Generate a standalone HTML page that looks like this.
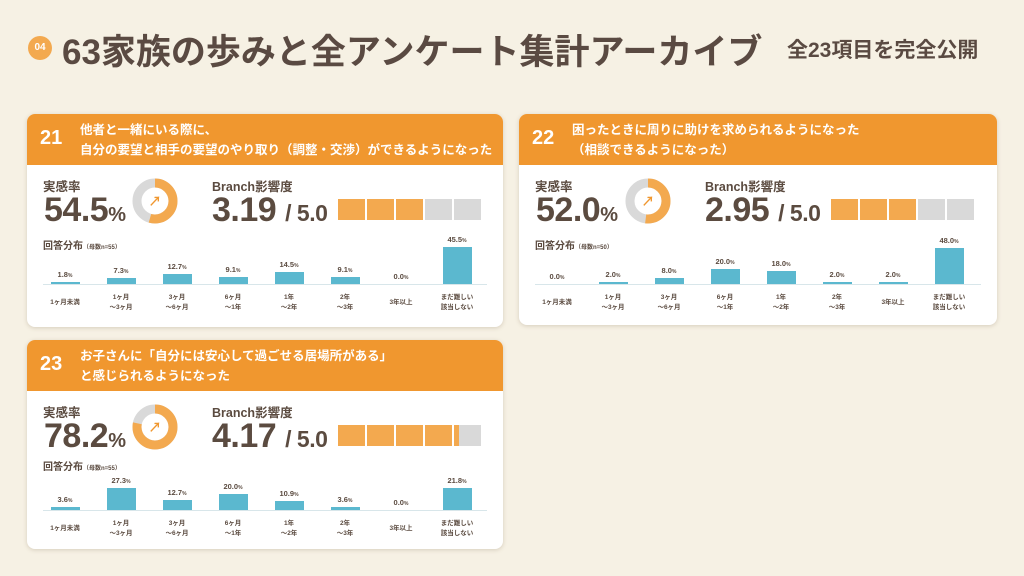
<!DOCTYPE html>
<html><head><meta charset="utf-8"><style>
*{margin:0;padding:0;box-sizing:border-box}
body{width:1024px;height:576px;overflow:hidden;background:#f6f1e4;font-family:"Liberation Sans","Noto Sans CJK JP",sans-serif;color:#5b4b40;position:relative}
.a{position:absolute;white-space:nowrap}
.card{position:absolute;background:#fff;border-radius:8px;box-shadow:0 1px 4px rgba(120,100,70,.25);overflow:hidden}
.hd{position:absolute;left:0;top:0;right:0;height:51px;background:#f0972f;color:#fff;font-weight:bold}
.num{position:absolute;left:13px;top:13px;font-size:20px}
.tt{position:absolute;left:53px;font-size:12.5px;line-height:20px}
.lb{font-size:12.5px;font-weight:bold}
.big{font-size:34px;font-weight:bold;letter-spacing:-0.5px;line-height:40px}
.big small{font-size:20px;font-weight:bold}
.sl{font-size:23px;font-weight:bold}
.blk{position:absolute;top:85px;width:27px;height:21px;background:#d9d9d9}
.o{background:#f3a94f}
.bar{position:absolute;width:29px;background:#5bb8cf}
.v{position:absolute;width:50px;text-align:center;font-size:7.5px;font-weight:bold;color:#5b4b40}
.v i{font-style:normal;font-size:5px}
.x{position:absolute;width:56px;text-align:center;font-size:6.5px;line-height:10px;font-weight:bold}
.base{position:absolute;left:16px;right:16px;height:1px;background:#d8e6ea}
</style></head><body>
<div class="a" style="left:28px;top:36px;width:24px;height:24px;border-radius:50%;background:#f3a94f;color:#fff;font-size:10px;font-weight:bold;text-align:center;line-height:24px">04</div>
<div class="a" style="left:62px;top:24px;font-size:35px;font-weight:bold;color:#5a4a42;letter-spacing:0px">63家族の歩みと全アンケート集計アーカイブ</div>
<div class="a" style="left:787px;top:34px;font-size:21px;font-weight:bold;color:#5a4a42">全23項目を完全公開</div>

<!-- card 21 -->
<div class="card" style="left:27px;top:114px;width:476px;height:213px">
<div class="hd"><div class="num">21</div><div class="tt" style="top:6px">他者と一緒にいる際に、<br>自分の要望と相手の要望のやり取り（調整・交渉）ができるようになった</div></div>
<div class="a lb" style="left:16px;top:62px">実感率</div>
<div class="a big" style="left:17px;top:76px">54.5<small>%</small></div>
<svg class="a" style="left:105px;top:64px" width="46" height="46"><circle cx="23" cy="23" r="18" fill="none" stroke="#d9d9d9" stroke-width="9"/><circle cx="23" cy="23" r="18" fill="none" stroke="#f3a94f" stroke-width="9" stroke-dasharray="61.6 200" transform="rotate(-90 23 23)"/><text x="23" y="28" text-anchor="middle" font-size="13" font-weight="bold" fill="#f0972f">↗</text></svg>
<div class="a lb" style="left:185px;top:62px">Branch影響度</div>
<div class="a big" style="left:185px;top:76px">3.19 <span class="sl">/ 5.0</span></div>
<div class="blk o" style="left:311px"></div><div class="blk o" style="left:340px"></div><div class="blk o" style="left:369px"></div><div class="blk" style="left:398px"></div><div class="blk" style="left:427px"></div>
<div class="a" style="left:16px;top:123px;font-size:10px;font-weight:bold">回答分布<span style="font-size:6px">（母数n=55）</span></div>
<div class="base" style="top:170px"></div>
<div class="bar" style="left:24px;top:168px;height:2px"></div><div class="v" style="left:13px;top:156px">1.8<i>%</i></div>
<div class="bar" style="left:80px;top:164px;height:6px"></div><div class="v" style="left:69px;top:152px">7.3<i>%</i></div>
<div class="bar" style="left:136px;top:160px;height:10px"></div><div class="v" style="left:125px;top:148px">12.7<i>%</i></div>
<div class="bar" style="left:192px;top:163px;height:7px"></div><div class="v" style="left:181px;top:151px">9.1<i>%</i></div>
<div class="bar" style="left:248px;top:158px;height:12px"></div><div class="v" style="left:237px;top:146px">14.5<i>%</i></div>
<div class="bar" style="left:304px;top:163px;height:7px"></div><div class="v" style="left:293px;top:151px">9.1<i>%</i></div>
<div class="v" style="left:349px;top:158px">0.0<i>%</i></div>
<div class="bar" style="left:416px;top:133px;height:37px"></div><div class="v" style="left:405px;top:121px">45.5<i>%</i></div>
<div class="x" style="left:10px;top:184px">1ヶ月未満</div>
<div class="x" style="left:66px;top:179px">1ヶ月<br>〜3ヶ月</div>
<div class="x" style="left:122px;top:179px">3ヶ月<br>〜6ヶ月</div>
<div class="x" style="left:178px;top:179px">6ヶ月<br>〜1年</div>
<div class="x" style="left:234px;top:179px">1年<br>〜2年</div>
<div class="x" style="left:290px;top:179px">2年<br>〜3年</div>
<div class="x" style="left:346px;top:184px">3年以上</div>
<div class="x" style="left:402px;top:179px">まだ難しい<br>該当しない</div>
</div>

<!-- card 22 -->
<div class="card" style="left:519px;top:114px;width:478px;height:211px">
<div class="hd"><div class="num">22</div><div class="tt" style="top:6px">困ったときに周りに助けを求められるようになった<br>（相談できるようになった）</div></div>
<div class="a lb" style="left:16px;top:62px">実感率</div>
<div class="a big" style="left:17px;top:76px">52.0<small>%</small></div>
<svg class="a" style="left:106px;top:64px" width="46" height="46"><circle cx="23" cy="23" r="18" fill="none" stroke="#d9d9d9" stroke-width="9"/><circle cx="23" cy="23" r="18" fill="none" stroke="#f3a94f" stroke-width="9" stroke-dasharray="58.8 200" transform="rotate(-90 23 23)"/><text x="23" y="28" text-anchor="middle" font-size="13" font-weight="bold" fill="#f0972f">↗</text></svg>
<div class="a lb" style="left:186px;top:62px">Branch影響度</div>
<div class="a big" style="left:186px;top:76px">2.95 <span class="sl">/ 5.0</span></div>
<div class="blk o" style="left:312px"></div><div class="blk o" style="left:341px"></div><div class="blk o" style="left:370px"></div><div class="blk" style="left:399px"></div><div class="blk" style="left:428px"></div>
<div class="a" style="left:16px;top:123px;font-size:10px;font-weight:bold">回答分布<span style="font-size:6px">（母数n=50）</span></div>
<div class="base" style="top:170px"></div>
<div class="v" style="left:13px;top:158px">0.0<i>%</i></div>
<div class="bar" style="left:80px;top:168px;height:2px"></div><div class="v" style="left:69px;top:156px">2.0<i>%</i></div>
<div class="bar" style="left:136px;top:164px;height:6px"></div><div class="v" style="left:125px;top:152px">8.0<i>%</i></div>
<div class="bar" style="left:192px;top:155px;height:15px"></div><div class="v" style="left:181px;top:143px">20.0<i>%</i></div>
<div class="bar" style="left:248px;top:157px;height:13px"></div><div class="v" style="left:237px;top:145px">18.0<i>%</i></div>
<div class="bar" style="left:304px;top:168px;height:2px"></div><div class="v" style="left:293px;top:156px">2.0<i>%</i></div>
<div class="bar" style="left:360px;top:168px;height:2px"></div><div class="v" style="left:349px;top:156px">2.0<i>%</i></div>
<div class="bar" style="left:416px;top:134px;height:36px"></div><div class="v" style="left:405px;top:122px">48.0<i>%</i></div>
<div class="x" style="left:10px;top:184px">1ヶ月未満</div>
<div class="x" style="left:66px;top:179px">1ヶ月<br>〜3ヶ月</div>
<div class="x" style="left:122px;top:179px">3ヶ月<br>〜6ヶ月</div>
<div class="x" style="left:178px;top:179px">6ヶ月<br>〜1年</div>
<div class="x" style="left:234px;top:179px">1年<br>〜2年</div>
<div class="x" style="left:290px;top:179px">2年<br>〜3年</div>
<div class="x" style="left:346px;top:184px">3年以上</div>
<div class="x" style="left:402px;top:179px">まだ難しい<br>該当しない</div>
</div>

<!-- card 23 -->
<div class="card" style="left:27px;top:340px;width:476px;height:209px">
<div class="hd"><div class="num">23</div><div class="tt" style="top:6px">お子さんに「自分には安心して過ごせる居場所がある」<br>と感じられるようになった</div></div>
<div class="a lb" style="left:16px;top:62px">実感率</div>
<div class="a big" style="left:17px;top:76px">78.2<small>%</small></div>
<svg class="a" style="left:105px;top:64px" width="46" height="46"><circle cx="23" cy="23" r="18" fill="none" stroke="#d9d9d9" stroke-width="9"/><circle cx="23" cy="23" r="18" fill="none" stroke="#f3a94f" stroke-width="9" stroke-dasharray="88.4 200" transform="rotate(-90 23 23)"/><text x="23" y="28" text-anchor="middle" font-size="13" font-weight="bold" fill="#f0972f">↗</text></svg>
<div class="a lb" style="left:185px;top:62px">Branch影響度</div>
<div class="a big" style="left:185px;top:76px">4.17 <span class="sl">/ 5.0</span></div>
<div class="blk o" style="left:311px"></div><div class="blk o" style="left:340px"></div><div class="blk o" style="left:369px"></div><div class="blk o" style="left:398px"></div><div class="blk" style="left:427px;background:linear-gradient(90deg,#f3a94f 0 5px,#d9d9d9 5px)"></div>
<div class="a" style="left:16px;top:118px;font-size:10px;font-weight:bold">回答分布<span style="font-size:6px">（母数n=55）</span></div>
<div class="base" style="top:170px"></div>
<div class="bar" style="left:24px;top:167px;height:3px"></div><div class="v" style="left:13px;top:155px">3.6<i>%</i></div>
<div class="bar" style="left:80px;top:148px;height:22px"></div><div class="v" style="left:69px;top:136px">27.3<i>%</i></div>
<div class="bar" style="left:136px;top:160px;height:10px"></div><div class="v" style="left:125px;top:148px">12.7<i>%</i></div>
<div class="bar" style="left:192px;top:154px;height:16px"></div><div class="v" style="left:181px;top:142px">20.0<i>%</i></div>
<div class="bar" style="left:248px;top:161px;height:9px"></div><div class="v" style="left:237px;top:149px">10.9<i>%</i></div>
<div class="bar" style="left:304px;top:167px;height:3px"></div><div class="v" style="left:293px;top:155px">3.6<i>%</i></div>
<div class="v" style="left:349px;top:158px">0.0<i>%</i></div>
<div class="bar" style="left:416px;top:148px;height:22px"></div><div class="v" style="left:405px;top:136px">21.8<i>%</i></div>
<div class="x" style="left:10px;top:184px">1ヶ月未満</div>
<div class="x" style="left:66px;top:179px">1ヶ月<br>〜3ヶ月</div>
<div class="x" style="left:122px;top:179px">3ヶ月<br>〜6ヶ月</div>
<div class="x" style="left:178px;top:179px">6ヶ月<br>〜1年</div>
<div class="x" style="left:234px;top:179px">1年<br>〜2年</div>
<div class="x" style="left:290px;top:179px">2年<br>〜3年</div>
<div class="x" style="left:346px;top:184px">3年以上</div>
<div class="x" style="left:402px;top:179px">まだ難しい<br>該当しない</div>
</div>
</body></html>
